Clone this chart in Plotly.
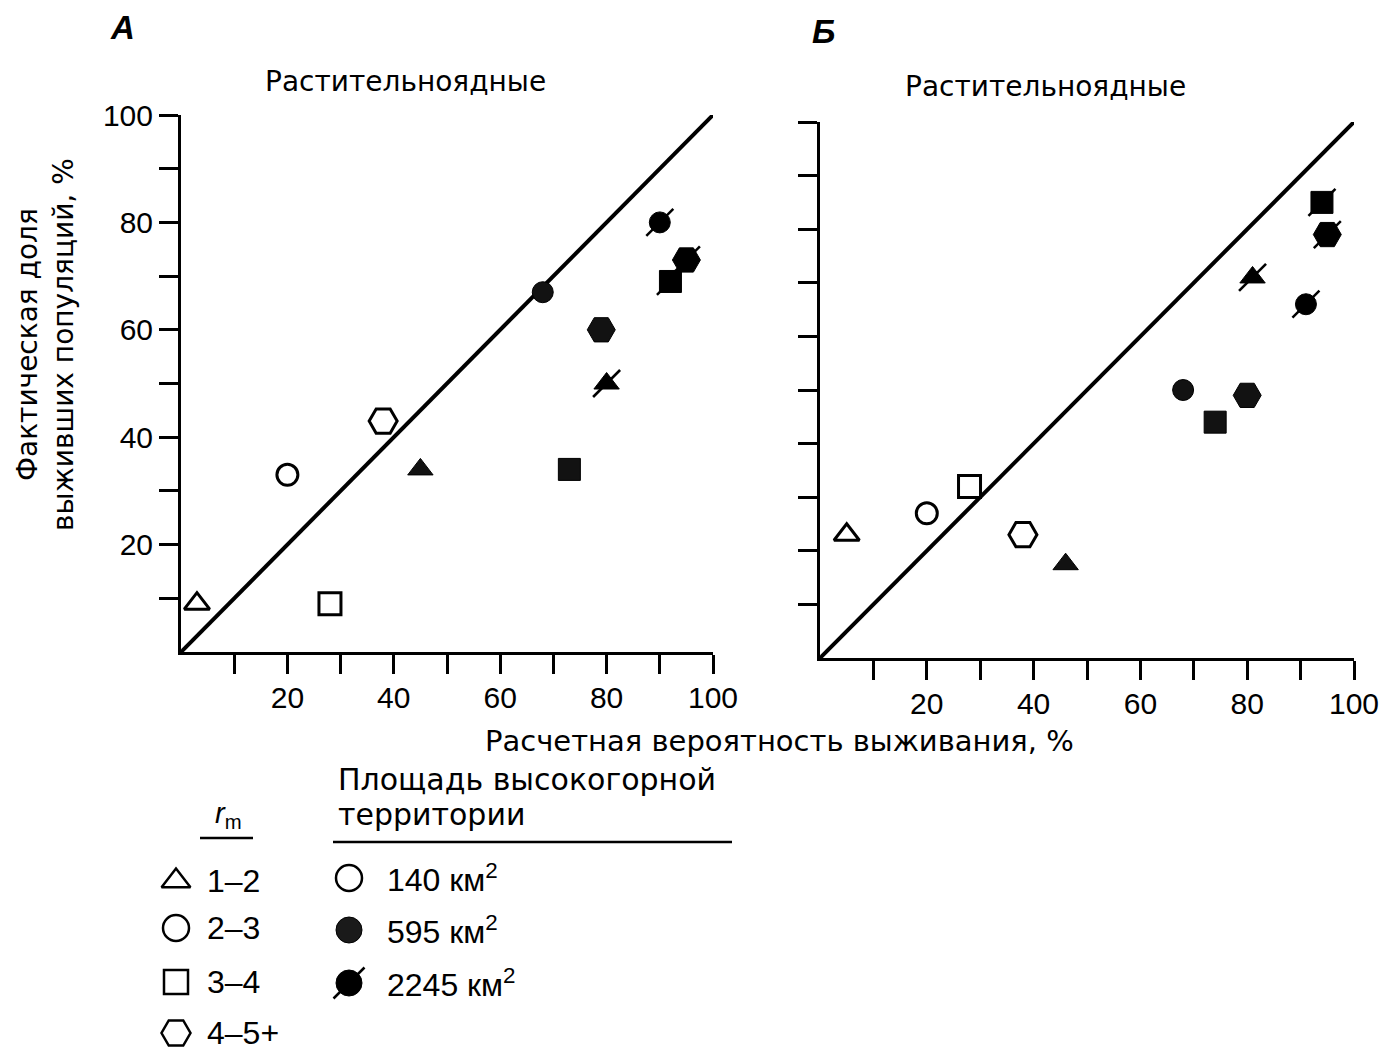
import plotly.graph_objects as go

# ---------------- data ----------------
rm_classes = ["1–2", "2–3", "3–4", "4–5+"]          # triangle, circle, square, hexagon
area_classes = ["140 км<sup>2</sup>", "595 км<sup>2</sup>", "2245 км<sup>2</sup>"]

# Panel A (x = predicted survival %, y = actual share survived %), order: 1–2, 2–3, 3–4, 4–5+
A_140_x = [3, 20, 28, 38]
A_140_y = [9, 33, 9, 43]
A_595_x = [45, 68, 73, 79]
A_595_y = [34, 67, 34, 60]
A_2245_x = [80, 90, 92, 95]
A_2245_y = [50, 80, 69, 73]

# Panel Б
B_140_x = [5, 20, 28, 38]
B_140_y = [23, 27, 32, 23]
B_595_x = [46, 68, 74, 80]
B_595_y = [17.5, 50, 44, 49]
B_2245_x = [81, 91, 94, 95]
B_2245_y = [71, 66, 85, 79]

diag = [0, 100]
tick_vals = [10, 20, 30, 40, 50, 60, 70, 80, 90, 100]
tick_text = ["", "20", "", "40", "", "60", "", "80", "", "100"]

# ---------------- style ----------------
W, H = 1390, 1050
SYMS = ["triangle-up", "circle", "square", "hexagon2"]
SIZES = [22, 21, 22, 28]
TXT_FONT = "DejaVu Sans, Liberation Sans, Arial, sans-serif"
NUM_FONT = "Liberation Sans, Arial, sans-serif"
INK = "#000000"


def px(x):
    return x / W


def py(y):
    return 1 - y / H


fig = go.Figure()


def add_panel(xa, ya, x140, y140, x595, y595, x2245, y2245):
    fig.add_trace(go.Scatter(x=diag, y=diag, mode="lines", xaxis=xa, yaxis=ya,
                             line=dict(color=INK, width=4), hoverinfo="skip", showlegend=False))
    fig.add_trace(go.Scatter(x=x140, y=y140, mode="markers", xaxis=xa, yaxis=ya, showlegend=False,
                             marker=dict(symbol=SYMS, size=SIZES, color="white", opacity=1,
                                         line=dict(color=INK, width=3))))
    fig.add_trace(go.Scatter(x=x595, y=y595, mode="markers", xaxis=xa, yaxis=ya, showlegend=False,
                             marker=dict(symbol=SYMS, size=SIZES, color="#121212", opacity=1,
                                         line=dict(color=INK, width=1))))
    fig.add_trace(go.Scatter(x=x2245, y=y2245, mode="markers", xaxis=xa, yaxis=ya, showlegend=False,
                             marker=dict(symbol=SYMS, size=SIZES, color=INK, opacity=1,
                                         line=dict(color=INK, width=1))))
    fig.add_trace(go.Scatter(x=x2245, y=y2245, mode="markers", xaxis=xa, yaxis=ya, showlegend=False,
                             marker=dict(symbol="line-ne", size=27, opacity=1,
                                         line=dict(color=INK, width=2.5))))


add_panel("x", "y", A_140_x, A_140_y, A_595_x, A_595_y, A_2245_x, A_2245_y)
add_panel("x2", "y2", B_140_x, B_140_y, B_595_x, B_595_y, B_2245_x, B_2245_y)

# ---------------- legend (hidden pixel-space axes) ----------------
LEG = dict(rm_x=176, rm_y=[881, 928, 982, 1033], rm_tx=205,
           ar_x=349, ar_y=[878, 930, 983], ar_tx=385)
leg_sizes = [25, 26, 24, 29]
fig.add_trace(go.Scatter(x=[LEG["rm_x"]] * 4, y=LEG["rm_y"], mode="markers", xaxis="x3", yaxis="y3",
                         showlegend=False, hoverinfo="skip",
                         marker=dict(symbol=SYMS, size=leg_sizes, color="white", opacity=1,
                                     line=dict(color=INK, width=2.5))))
fig.add_trace(go.Scatter(x=[LEG["ar_x"]] * 3, y=LEG["ar_y"], mode="markers", xaxis="x3", yaxis="y3",
                         showlegend=False, hoverinfo="skip",
                         marker=dict(symbol="circle", size=26, color=["white", "#1a1a1a", INK], opacity=1,
                                     line=dict(color=INK, width=[2.5, 1, 1]))))
fig.add_trace(go.Scatter(x=[LEG["ar_x"]], y=[LEG["ar_y"][2]], mode="markers", xaxis="x3", yaxis="y3",
                         showlegend=False, hoverinfo="skip",
                         marker=dict(symbol="line-ne", size=31, opacity=1,
                                     line=dict(color=INK, width=2.5))))

annotations = []
for lab, yy in zip(rm_classes, LEG["rm_y"]):
    annotations.append(dict(x=px(LEG["rm_tx"]), y=py(yy), text=lab, xanchor="left", yanchor="middle",
                            font=dict(family=NUM_FONT, size=32, color=INK)))
for lab, yy in zip(area_classes, LEG["ar_y"]):
    annotations.append(dict(x=px(LEG["ar_tx"]), y=py(yy), text=lab, xanchor="left", yanchor="middle",
                            font=dict(family=NUM_FONT, size=32, color=INK)))

annotations += [
    dict(x=px(228), y=py(815), text="<i>r</i><sub>m</sub>", xanchor="center", yanchor="middle",
         font=dict(family=NUM_FONT, size=29, color=INK)),
    dict(x=px(336), y=py(779), text="Площадь высокогорной", xanchor="left", yanchor="middle",
         font=dict(family=TXT_FONT, size=30, color=INK)),
    dict(x=px(336), y=py(814), text="территории", xanchor="left", yanchor="middle",
         font=dict(family=TXT_FONT, size=30, color=INK)),
    dict(x=px(122), y=py(28), text="<b><i>А</i></b>", xanchor="center", yanchor="middle",
         font=dict(family=NUM_FONT, size=33, color=INK)),
    dict(x=px(823), y=py(32), text="<b><i>Б</i></b>", xanchor="center", yanchor="middle",
         font=dict(family=NUM_FONT, size=33, color=INK)),
    dict(x=px(405), y=py(81), text="Растительноядные", xanchor="center", yanchor="middle",
         font=dict(family=TXT_FONT, size=28, color=INK)),
    dict(x=px(1045), y=py(86), text="Растительноядные", xanchor="center", yanchor="middle",
         font=dict(family=TXT_FONT, size=28, color=INK)),
    dict(x=px(779), y=py(741), text="Расчетная вероятность выживания, %", xanchor="center",
         yanchor="middle", font=dict(family=TXT_FONT, size=29, color=INK)),
    dict(x=px(46), y=py(345), text="Фактическая доля<br>выживших популяций, %", textangle=-90,
         xanchor="center", yanchor="middle",
         font=dict(family=TXT_FONT, size=28, color=INK)),
]
for a in annotations:
    a.setdefault("xref", "paper")
    a.setdefault("yref", "paper")
    a.setdefault("showarrow", False)

shapes = [
    dict(type="line", xref="paper", yref="paper", x0=px(200), x1=px(253), y0=py(838), y1=py(838),
         line=dict(color=INK, width=2.5)),
    dict(type="line", xref="paper", yref="paper", x0=px(333), x1=px(732), y0=py(842), y1=py(842),
         line=dict(color=INK, width=2.5)),
]

axis_common = dict(range=[0, 100], showgrid=False, zeroline=False, showline=True,
                   linecolor=INK, linewidth=3, ticks="outside", ticklen=19, tickwidth=2.5,
                   tickcolor=INK, tickvals=tick_vals, automargin=False,
                   tickfont=dict(family=NUM_FONT, size=30, color=INK), fixedrange=True)

fig.update_layout(
    template="none",
    width=W, height=H, margin=dict(l=0, r=0, t=0, b=0, pad=0, autoexpand=False),
    paper_bgcolor="white", plot_bgcolor="rgba(0,0,0,0)",
    showlegend=False,
    xaxis=dict(domain=[px(181), px(713)], anchor="y", ticktext=tick_text, ticklabelstandoff=-2, **axis_common),
    yaxis=dict(domain=[py(652), py(115)], anchor="x", ticktext=tick_text, **axis_common),
    xaxis2=dict(domain=[px(820), px(1354)], anchor="y2", ticktext=tick_text, ticklabelstandoff=-2, **axis_common),
    yaxis2=dict(domain=[py(658), py(122)], anchor="x2", ticktext=[""] * 10, **axis_common),
    xaxis3=dict(domain=[px(100), px(760)], range=[100, 760], visible=False, anchor="y3",
                fixedrange=True, automargin=False),
    yaxis3=dict(domain=[0, py(760)], range=[1050, 760], visible=False, anchor="x3",
                fixedrange=True, automargin=False),
    annotations=annotations,
    shapes=shapes,
)

fig.write_html(
    "out.html",
    config={"displayModeBar": False},
    post_script="document.body.style.margin='0';document.body.style.padding='0';"
                "document.body.style.overflow='hidden';",
)
